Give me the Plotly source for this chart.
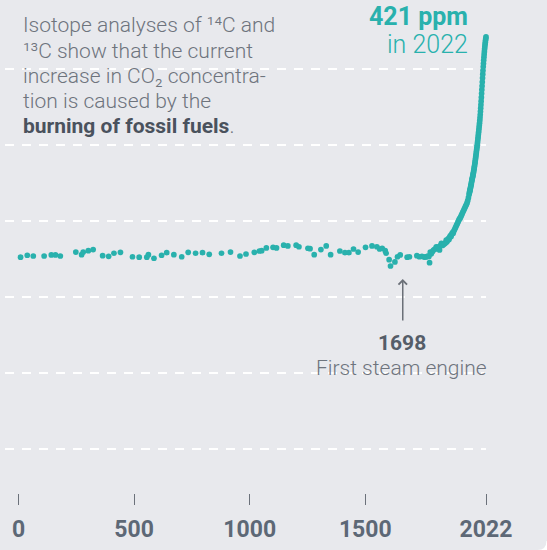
import plotly.graph_objects as go

# ---- data ----
years_pre = [9, 38, 64, 111, 142, 160, 181, 248, 273, 280, 302, 323, 364, 390, 413, 441,
             493, 522, 555, 562, 586, 619, 641, 672, 706, 734, 766, 796, 825, 878, 917,
             958, 984, 1020, 1042, 1052, 1072, 1101, 1116, 1147, 1165, 1201, 1213, 1252,
             1261, 1279, 1308, 1331, 1350, 1390, 1412, 1429, 1449, 1469, 1501, 1529, 1550,
             1562, 1573, 1586, 1590, 1603, 1609, 1628, 1639, 1651, 1681, 1691, 1723, 1734,
             1745, 1755]
ppm_pre = [276.3, 277.6, 277.1, 277.1, 277.8, 277.8, 277.1, 279.7, 278.0, 279.7, 280.6,
           281.3, 277.3, 276.9, 278.9, 279.5, 276.6, 276.3, 276.3, 278.0, 275.6, 277.6,
           279.3, 278.0, 276.6, 279.5, 278.9, 279.3, 278.2, 278.9, 279.7, 277.1, 278.4,
           279.5, 280.4, 280.6, 282.4, 282.8, 282.4, 284.2, 283.7, 284.2, 283.2, 282.2,
           281.9, 278.0, 281.3, 283.7, 278.0, 280.4, 279.3, 279.3, 281.7, 279.7, 282.8,
           283.7, 283.2, 281.7, 282.2, 280.6, 278.9, 274.7, 270.5, 273.2, 276.6, 277.8,
           276.3, 276.6, 277.3, 276.6, 276.9, 276.4]

years_ind = [1760, 1765, 1770, 1775, 1778, 1781, 1785, 1790, 1795, 1800, 1805, 1807, 1812,
             1816, 1821, 1825, 1829, 1833, 1837, 1841, 1845, 1848, 1850, 1853, 1856, 1859,
             1862, 1865, 1868, 1871, 1874, 1877, 1880, 1883, 1886, 1889, 1892, 1895, 1898,
             1901, 1904, 1907, 1910, 1913, 1916, 1919, 1922, 1925, 1928, 1931, 1934, 1937,
             1940, 1943, 1946, 1949]
ppm_ind = [276.5, 276.6, 277.0, 276.8, 272.7, 279.7, 278.5, 279.9, 281.0, 281.5, 282.0,
           283.2, 283.0, 282.5, 281.1, 284.0, 285.5, 284.0, 284.5, 285.0, 285.5, 286.0,
           287.6, 286.5, 287.5, 288.5, 288.0, 289.5, 290.5, 290.0, 291.5, 292.5, 292.0,
           293.5, 294.5, 295.5, 296.5, 297.5, 298.5, 299.5, 300.5, 301.5, 302.0, 303.0,
           304.0, 305.0, 306.0, 307.0, 308.0, 309.0, 310.0, 311.0, 312.0, 313.5, 315.5,
           317.5]

years_mod = list(range(1950, 2023))
ppm_mod = [318.5, 319.2, 319.9, 320.6, 321.3, 322.0, 322.8, 323.6, 324.4, 325.2, 326.1,
           327.0, 327.7, 328.4, 329.1, 329.8, 330.6, 331.4, 332.3, 333.2, 334.2, 335.1,
           336.0, 337.0, 338.1, 339.2, 340.3, 341.5, 342.7, 343.9, 345.1, 346.3, 347.5,
           348.7, 350.0, 351.4, 352.8, 354.2, 355.6, 357.0, 358.5, 360.0, 361.5, 363.0,
           364.5, 366.3, 368.1, 370.0, 372.2, 374.4, 376.6, 379.0, 381.5, 384.0, 386.5,
           389.0, 391.6, 394.2, 396.8, 399.2, 401.6, 403.8, 405.9, 407.9, 409.8, 411.6,
           413.3, 414.9, 416.4, 417.8, 419.1, 420.2, 421.3]

tick_vals = [0, 500, 1000, 1500, 2022]
tick_text = ["0", "500", "1000", "1500", "2022"]
grid_vals = [150, 200, 250, 300, 350, 400]

note_lines = ["Isotope analyses of ¹⁴C and",
              "¹³C show that the current",
              "increase in CO₂ concentra-",
              "tion is caused by the",
              "<span style='color:#4a525d'><b>burning of fossil fuels</b></span>."]

TEAL = "#29b1ad"
BG = "#e8e9ed"
LIGHT = "#6e747d"

# plot area in page pixels: x 5..486.5, y 0..493
def px(xp):
    return (xp - 5) / 481.5
def py(yp):
    return (493 - yp) / 493

fig = go.Figure()
for xs, ys in [(years_pre, ppm_pre), (years_ind, ppm_ind), (years_mod, ppm_mod)]:
    fig.add_trace(go.Scatter(x=xs, y=ys, mode="markers", cliponaxis=False,
                             marker=dict(size=5.7, color=TEAL, line=dict(width=0)),
                             showlegend=False, hoverinfo="skip"))

fig.update_layout(
    width=547, height=550,
    margin=dict(l=5, r=60.5, t=0, b=57),
    paper_bgcolor=BG, plot_bgcolor=BG,
    font=dict(family="Roboto", color=LIGHT),
    xaxis=dict(range=[-58.3, 2022], tickvals=tick_vals, ticktext=tick_text,
               showgrid=False, zeroline=False, showline=False,
               ticks="outside", ticklen=11, tickwidth=1, tickcolor="#6b717a",
               ticklabelstandoff=4,
               tickfont=dict(family="Roboto", size=23, color="#5d6876", weight="bold")),
    yaxis=dict(range=[121.1, 445.6], tickvals=grid_vals, showticklabels=False,
               showgrid=True, gridcolor="#ffffff", gridwidth=1.6, griddash="9px,8px",
               zeroline=False, showline=False),
)

ann = []
for i, line in enumerate(note_lines):
    ann.append(dict(xref="paper", yref="paper", x=px(21), y=py(25.5 + 25.2 * i),
                    xanchor="left", yanchor="middle", align="left", showarrow=False,
                    text=line,
                    font=dict(family="Roboto", size=21, color=LIGHT, weight=300)))
ann.append(dict(xref="paper", yref="paper", x=px(470), y=py(17),
                xanchor="right", yanchor="middle", showarrow=False,
                text="<b>421 ppm</b>",
                font=dict(family="Roboto", size=25, color=TEAL)))
ann.append(dict(xref="paper", yref="paper", x=px(470), y=py(44),
                xanchor="right", yanchor="middle", showarrow=False,
                text="in 2022",
                font=dict(family="Roboto", size=25, color=TEAL, weight=300)))
# arrow
ann.append(dict(x=1662, y=262, xref="x", yref="y", ax=0, ay=43, axref="pixel", ayref="pixel",
                showarrow=True, arrowhead=4, arrowsize=1.1, arrowwidth=1.5,
                arrowcolor="#6b7078", text=""))
ann.append(dict(xref="paper", yref="paper", x=px(402.3), y=py(343),
                xanchor="center", yanchor="middle", showarrow=False,
                text="<b>1698</b>",
                font=dict(family="Roboto", size=21, color="#555d68")))
ann.append(dict(xref="paper", yref="paper", x=px(402.3), y=py(368),
                xanchor="center", yanchor="middle", showarrow=False,
                text="First steam engine",
                font=dict(family="Roboto", size=21, color=LIGHT, weight=300)))
fig.update_layout(annotations=ann)

# rounded bottom-right corner
fig.add_shape(type="path", xref="paper", yref="paper", layer="above",
              path=f"M {px(547)},{py(541)} L {px(548)},{py(541)} L {px(548)},{py(551)} "
                   f"L {px(538)},{py(551)} L {px(538)},{py(550)} Q {px(547)},{py(550)} {px(547)},{py(541)} Z",
              fillcolor="#ffffff", line=dict(width=0))

fig.write_html("out.html", config={"displayModeBar": False},
               post_script="document.body.style.margin='0';")
